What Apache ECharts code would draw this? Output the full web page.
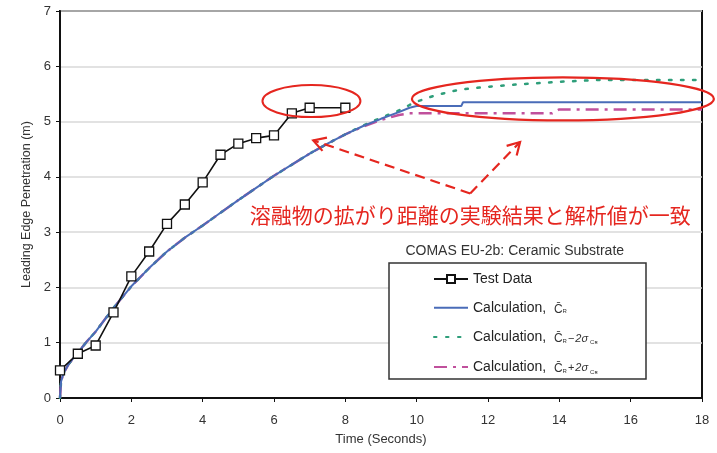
<!DOCTYPE html>
<html><head><meta charset="utf-8">
<script src="https://cdn.jsdelivr.net/npm/echarts@6/dist/echarts.min.js"></script>
<style>html,body{margin:0;padding:0;background:#fff}#c{width:717px;height:453px}</style>
</head><body><div id="c"></div>
<script>
// ---- data ----
const testTime = [0, 0.5, 1, 1.5, 2, 2.5, 3, 3.5, 4, 4.5, 5, 5.5, 6, 6.5, 7, 8];
const testValue = [0.5, 0.8, 0.95, 1.55, 2.2, 2.65, 3.15, 3.5, 3.9, 4.4, 4.6, 4.7, 4.75, 5.15, 5.25, 5.25];

const calcTime  = [0, 0.03, 0.1, 0.25, 0.5, 0.75, 1, 1.5, 2, 2.5, 3, 3.5, 4, 4.5, 5, 5.5, 6, 6.5, 7, 7.5, 8, 8.5, 9, 9.5, 9.8, 10, 10.5, 11, 11.25, 11.3, 12, 13, 13.8, 14, 15, 16, 17, 18];
const calcMean  = [0, 0.3, 0.45, 0.62, 0.82, 1.02, 1.2, 1.63, 2.02, 2.35, 2.65, 2.9, 3.12, 3.35, 3.58, 3.8, 4.02, 4.22, 4.42, 4.6, 4.77, 4.92, 5.05, 5.17, 5.25, 5.28, 5.28, 5.28, 5.28, 5.35, 5.35, 5.35, 5.35, 5.35, 5.35, 5.35, 5.35, 5.35];
const calcMinus = [0, 0.3, 0.45, 0.62, 0.82, 1.02, 1.2, 1.63, 2.02, 2.35, 2.65, 2.9, 3.12, 3.35, 3.58, 3.8, 4.02, 4.22, 4.42, 4.6, 4.77, 4.93, 5.07, 5.2, 5.3, 5.36, 5.47, 5.55, 5.58, 5.59, 5.63, 5.68, 5.71, 5.72, 5.75, 5.75, 5.75, 5.75];
const calcPlus  = [0, 0.3, 0.45, 0.62, 0.82, 1.02, 1.2, 1.63, 2.02, 2.35, 2.65, 2.9, 3.12, 3.35, 3.58, 3.8, 4.02, 4.22, 4.42, 4.6, 4.77, 4.91, 5.03, 5.12, 5.15, 5.15, 5.15, 5.15, 5.15, 5.15, 5.15, 5.15, 5.15, 5.22, 5.22, 5.22, 5.22, 5.22];

const xTicks = [0, 2, 4, 6, 8, 10, 12, 14, 16, 18];
const yTicks = [0, 1, 2, 3, 4, 5, 6, 7];

const seriesNames = ['Test Data', 'Calc Mean', 'Calc Minus', 'Calc Plus'];
const chartTitle = 'COMAS EU-2b: Ceramic Substrate';
const noteText = '溶融物の拡がり距離の実験結果と解析値が一致';
const xName = 'Time (Seconds)';
const yName = 'Leading Edge Penetration (m)';

const pairs = (xs, ys) => xs.map((x, i) => [x, ys[i]]);

const FONT = '"Liberation Sans", Arial, sans-serif';
const chart = echarts.init(document.getElementById('c'), null, {renderer: 'canvas'});

const legendRich = {
  t: {fontSize: 14, fontFamily: FONT, color: '#222'},
  c: {fontSize: 12, fontFamily: FONT, color: '#333', padding: [3, 0, 0, 0]},
  r: {fontSize: 6, fontFamily: FONT, color: '#333', padding: [8, 0, 0, 0]},
  op: {fontSize: 11, fontFamily: FONT, color: '#333', padding: [3, 1, 0, 1]},
  n: {fontSize: 11, fontFamily: FONT, fontStyle: 'italic', color: '#333', padding: [3, 0, 0, 0]},
  s: {fontSize: 6, fontFamily: FONT, color: '#333', padding: [10, 0, 0, 2]}
};
const legendLabel = {
  'Test Data': '{t|Test Data}',
  'Calc Mean': '{t|Calculation,  }{c|C\u0304}{r|R}',
  'Calc Minus': '{t|Calculation,  }{c|C\u0304}{r|R}{op|\u2212}{n|2\u03C3}{s|C\u0280}',
  'Calc Plus': '{t|Calculation,  }{c|C\u0304}{r|R}{op|+}{n|2\u03C3}{s|C\u0280}'
};

const option = {
  animation: false,
  backgroundColor: '#fff',
  grid: {left: 60, right: 15, top: 11, bottom: 55, show: true, borderColor: '#111', borderWidth: 2, backgroundColor: 'transparent'},
  xAxis: {
    type: 'value', min: 0, max: 18, interval: 2,
    name: xName, nameLocation: 'middle', nameGap: 35,
    nameTextStyle: {fontSize: 13, fontFamily: FONT, color: '#333'},
    axisLine: {show: true, onZero: false, lineStyle: {color: '#111', width: 2}},
    axisTick: {show: true, inside: false, length: 4, lineStyle: {color: '#111'}},
    axisLabel: {margin: 16, fontSize: 13, fontFamily: FONT, color: '#333',
      formatter: v => xTicks.includes(v) ? String(v) : ''},
    splitLine: {show: false}
  },
  yAxis: {
    type: 'value', min: 0, max: 7, interval: 1,
    name: yName, nameLocation: 'middle', nameGap: 27, nameRotate: 90,
    nameTextStyle: {fontSize: 12.5, fontFamily: FONT, color: '#333'},
    axisLine: {show: true, onZero: false, lineStyle: {color: '#111', width: 2}},
    axisTick: {show: true, inside: false, length: 4, lineStyle: {color: '#111'}},
    axisLabel: {margin: 9, fontSize: 13, fontFamily: FONT, color: '#333',
      formatter: v => yTicks.includes(v) ? String(v) : ''},
    splitLine: {show: true, lineStyle: {color: '#d9d9d9', width: 1.5}}
  },
  legend: {
    orient: 'vertical', left: 433, top: 272, padding: 0, z: 10,
    itemWidth: 34, itemHeight: 10, itemGap: 14.8,
    data: [
      {name: seriesNames[0]},
      {name: seriesNames[1], itemStyle: {opacity: 0}},
      {name: seriesNames[2], itemStyle: {opacity: 0}},
      {name: seriesNames[3], itemStyle: {opacity: 0}}
    ],
    formatter: n => legendLabel[n],
    textStyle: {rich: legendRich, fontFamily: FONT, fontSize: 14, color: '#222'}
  },
  series: [
    {name: seriesNames[3], type: 'line', data: pairs(calcTime, calcPlus), showSymbol: false, symbol: 'none', z: 2,
      lineStyle: {color: '#c0509c', width: 2.5, type: [13, 6, 3, 6]}, itemStyle: {color: '#c0509c'}},
    {name: seriesNames[2], type: 'line', data: pairs(calcTime, calcMinus), showSymbol: false, symbol: 'none', z: 3,
      lineStyle: {color: '#2e9e7a', width: 2.5, type: [2.5, 9.5], cap: 'round'}, itemStyle: {color: '#2e9e7a'}},
    {name: seriesNames[1], type: 'line', data: pairs(calcTime, calcMean), showSymbol: false, symbol: 'none', z: 4,
      lineStyle: {color: '#4a6cb8', width: 2}, itemStyle: {color: '#4a6cb8'}},
    {name: seriesNames[0], type: 'line', data: pairs(testTime, testValue), z: 5,
      symbol: 'rect', symbolSize: 9,
      lineStyle: {color: '#111', width: 1.6},
      itemStyle: {color: '#fff', borderColor: '#111', borderWidth: 1.3}}
  ]
};
chart.setOption(option);

// ---- annotations (placed in data space) ----
const P = (x, y) => chart.convertToPixel({gridIndex: 0}, [x, y]);
const RED = '#e5261f';
function arrow(from, to) {
  const dx = to[0] - from[0], dy = to[1] - from[1];
  const L = Math.hypot(dx, dy), ux = dx / L, uy = dy / L;
  const h = 14, a = Math.PI / 6;
  const rot = (ang) => [ux * Math.cos(ang) - uy * Math.sin(ang), ux * Math.sin(ang) + uy * Math.cos(ang)];
  const r1 = rot(a), r2 = rot(-a);
  return [
    {type: 'polyline', z: 20, shape: {points: [from, to]}, style: {stroke: RED, lineWidth: 2.2, lineDash: [10, 6], fill: null}},
    {type: 'polyline', z: 20, shape: {points: [[to[0] - h * r1[0], to[1] - h * r1[1]], to, [to[0] - h * r2[0], to[1] - h * r2[1]]]},
      style: {stroke: RED, lineWidth: 2.2, fill: null}}
  ];
}
const c1 = P(7.05, 5.37), c2 = P(14.1, 5.41);
const vtx = P(11.5, 3.7), tipL = P(7.1, 4.66), tipR = P(12.9, 4.63);
const titlePos = P(12.75, 2.65);
const notePos = P(11.5, 3.31);

chart.setOption({
  graphic: [
    {type: 'rect', z: 5, shape: {x: 389, y: 263, width: 257, height: 116},
      style: {fill: '#fff', stroke: '#333', lineWidth: 1.5}},
    {type: 'text', z: 6, x: titlePos[0], y: titlePos[1],
      style: {text: chartTitle, fontSize: 14, fontFamily: FONT, fill: '#333', textAlign: 'center', textVerticalAlign: 'middle'}},
    {type: 'ellipse', z: 20, shape: {cx: c1[0], cy: c1[1], rx: 49, ry: 16}, style: {stroke: RED, lineWidth: 2, fill: null}},
    {type: 'ellipse', z: 20, shape: {cx: c2[0], cy: c2[1], rx: 151, ry: 21.5}, style: {stroke: RED, lineWidth: 2.2, fill: null}},
    ...arrow(vtx, tipL),
    ...arrow(vtx, tipR),
    {type: 'text', z: 20, x: notePos[0], y: notePos[1],
      style: {text: noteText, fontSize: 21, fontFamily: '"Noto Sans CJK JP", sans-serif', fill: RED, textAlign: 'center', textVerticalAlign: 'middle'}}
  ]
});
</script>
</body></html>
